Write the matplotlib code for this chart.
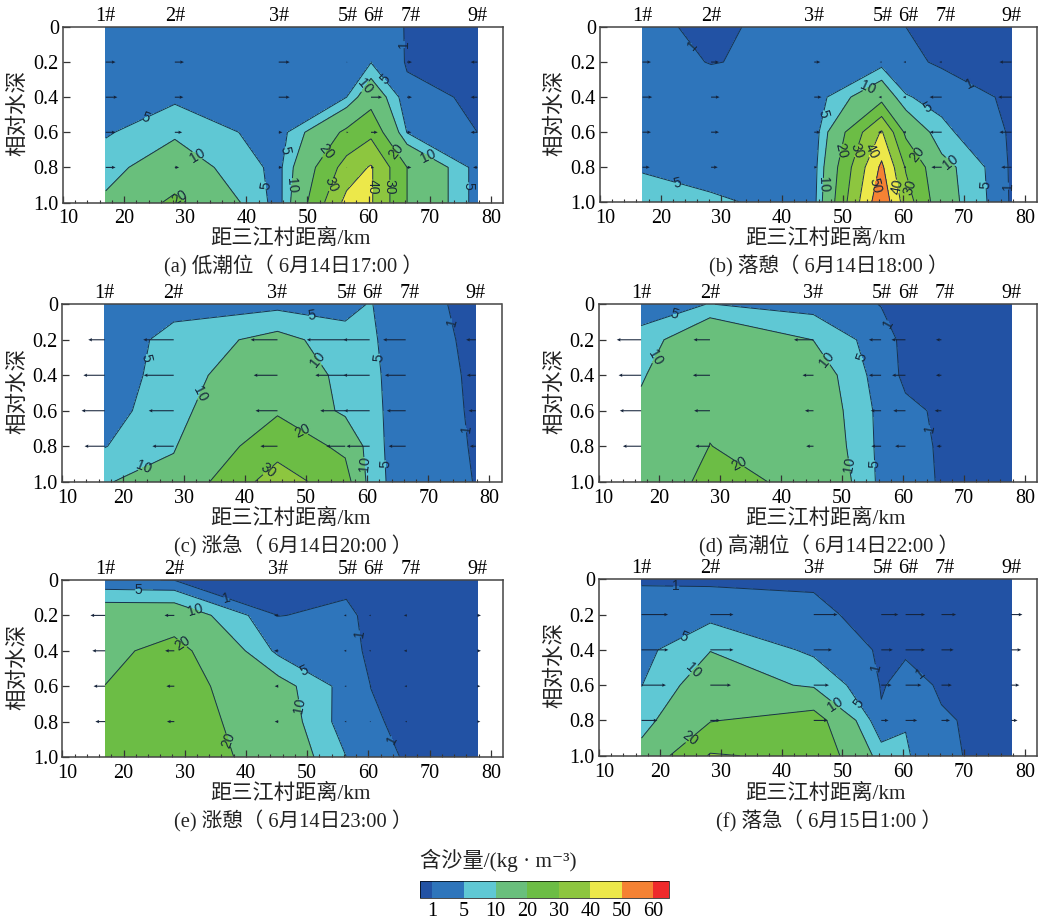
"""Six sediment concentration sections along the estuary, with flow arrows."""
import numpy as np
import matplotlib
matplotlib.use("Agg")
import matplotlib.pyplot as plt
from matplotlib.cm import ScalarMappable
from matplotlib.colors import BoundaryNorm, ListedColormap
from matplotlib.transforms import ScaledTranslation

plt.rcParams['font.family'] = ['Liberation Serif', 'Noto Sans CJK SC', 'DejaVu Sans']

W, H = 1043, 919

# stations along the river (km) and relative depths of the grid
STATION_X = [17, 28.3, 45.3, 56.4, 60.4, 66.3, 77.8]
STATION_LABEL_X = [17, 28.3, 45.3, 56.6, 60.8, 66.9, 77.8]
STATION_NAMES = ['1#', '2#', '3#', '5#', '6#', '7#', '9#']
DEPTHS = [0, 0.2, 0.4, 0.6, 0.8, 1.0]
ARROW_DEPTHS = [0.2, 0.4, 0.6, 0.8]

# concentration, one row per station, top to bottom
SSC_A = [[2.5, 2.5, 3, 4.4, 8, 11],
         [2.5, 2.5, 4, 9, 14, 22],
         [2, 2, 2, 2.5, 3.45, 3],
         [2.5, 3, 5, 22, 34, 43],
         [3, 4.8, 16, 27.5, 41, 41],
         [0.8, 0.7, 1.8, 4.8, 20, 20],
         [0.4, 0.4, 0.6, 1, 2.9, 2.9]]
SSC_B = [[1.6, 2.5, 3, 3.3, 4.7, 6.5],
         [0.45, 0.85, 3, 3, 3.5, 5.6],
         [2.3, 2.1, 2.3, 2.2, 3, 3.5],
         [2, 3, 16.5, 41, 52, 58],
         [1, 2, 5.3, 18, 29, 35],
         [0.5, 0.4, 3.7, 6, 12.5, 13.3],
         [0.3, 0.2, 0.17, 0.55, 0.4, 0.5]]
SSC_C = [[2, 2, 2.5, 3, 4.8, 9.7],
         [3.4, 6.6, 7, 8, 9.5, 12],
         [3.6, 12, 16, 19, 26, 35],
         [3.2, 7, 8, 8.4, 18, 24],
         [5.3, 6, 6.5, 7, 7, 7.5],
         [2, 1.5, 1.8, 1.6, 2.1, 2],
         [0.33, 0.8, 0.79, 0.88, 0.86, 0.95]]
SSC_D = [[3.5, 6, 9.3, 11.5, 12.5, 13],
         [5.1, 18, 18.5, 19, 20.1, 22.5],
         [3, 9.9, 14, 15, 16, 18],
         [0.9, 2.2, 2.6, 3.6, 3.7, 3.8],
         [0.7, 0.3, 0.4, 1.6, 2, 2.2],
         [0.3, 0.3, 0.3, 0.6, 0.69, 0.75],
         [0.2, 0.2, 0.2, 0.2, 0.2, 0.2]]
SSC_E = [[1.4, 15, 17.5, 20.1, 23, 25],
         [0.9, 15, 23.3, 24, 25, 26],
         [0.4, 0.93, 3.8, 12.5, 14.1, 15.5],
         [0.4, 1.5, 2, 3, 2.5, 5],
         [0.3, 0.39, 0.45, 0.98, 1.3, 2.2],
         [0.3, 0.3, 0.3, 0.4, 0.5, 0.7],
         [0.2, 0.2, 0.2, 0.2, 0.2, 0.2]]
SSC_F = [[0.6, 2.8, 3.5, 4.9, 7.5, 12.5],
         [0.35, 3.5, 9.8, 14, 19.5, 30.8],
         [0.7, 1.5, 4, 9, 24.5, 28],
         [0.3, 0.2, 0.55, 0.8, 1.3, 7.3],
         [0.3, 0.4, 0.7, 1.8, 4.7, 5.6],
         [0.3, 0.3, 0.4, 0.75, 1.2, 1.3],
         [0.2, 0.2, 0.2, 0.2, 0.3, 0.31]]

# along-river velocity drawn as arrow length (km), one row per station, top to bottom
FLOW_A = [[1.6, 1.9, 1.6, 1.6], [1.5, 1.4, 1.2, 0.7], [1.8, 1.8, 0.6, 0.6],
          [0.15, 0.1, 0.3, 0.1], [0.2, 1.8, 1.1, 0.5], [0.8, 0.8, 0.7, 0.7],
          [-1.1, -1.1, -1.1, -0.7]]
FLOW_B = [[1.4, 1.6, 1.4, 1.2], [1.3, 1.4, 1.3, 1.1], [1, 1.2, 1, 0.5],
          [-0.3, -0.5, -0.6, -0.1], [-0.4, -0.5, -0.5, -0.4], [-0.4, -2, -2, -1.7],
          [-2, -2.2, -2, -1.7]]
FLOW_C = [[-2.7, -3.5, -3.8, -3.3], [-5, -4.9, -4.1, -3.5], [-4.4, -3.9, -3.6, -2.8],
          [-6.3, -4.9, -4.1, -3.1], [-4.3, -4.3, -4.2, -3.8], [-3.7, -3.4, -3.1, -2.8],
          [-1.6, -1.5, -1.2, -1]]
FLOW_D = [[-4, -3.7, -3.5, -3], [-2.7, -2.8, -2.6, -2.4], [-3.2, -1.8, -1.4, -1.2],
          [-2, -2, -1.7, -1.6], [-2.3, -2.2, -2, -1.7], [-0.9, -0.9, -1.1, -0.8],
          [0, 0, 0, 0]]
FLOW_E = [[-2.4, -2.1, -1.9, -1.6], [-1.6, -1.5, -1.3, -1.2], [-0.7, -0.7, -0.6, -0.6],
          [-0.4, -0.4, -0.3, -0.3], [-0.3, -0.3, -0.2, -0.2], [-0.5, -0.5, -0.4, -0.3],
          [0.6, 0.6, 0.5, 0.5]]
FLOW_F = [[4.35, 4.4, 4, 2.6], [3.8, 3.8, 3.4, 1.6], [3.9, 3, 2.5, 2.3],
          [2.8, 1.9, 1.7, 1.2], [3.2, 3.2, 2.6, 1.9], [2.4, 2, 1.7, 1.4],
          [1.8, 1.6, 1.3, 1]]

# where each contour label sits
LABELS_A = [(23.5, .52), (43.4, .9), (46.3, .7), (32, .73), (29.1, .97), (47.5, .9),
            (53, .71), (54, .9), (60.8, .91), (63.6, .91), (64.5, .71), (69.6, .755),
            (76.1, .905), (62.7, .3), (59.6, .345), (66, .1)]
LABELS_B = [(25.4, .1), (22.7, .89), (47.2, .5), (46.7, .9), (49.8, .706), (52.3, .706),
            (54.7, .706), (55.1, .9), (59.3, .907), (61.5, .907), (62.1, .73), (67.6, .774),
            (73.6, .9), (63.9, .46), (54.2, .35), (70.9, .32), (77.6, .907)]
LABELS_C = [(50.9, .08), (23.8, .3), (32.5, .5), (23.4, .925), (52.2, .305), (49.3, .727),
            (43.8, .944), (59.4, .9), (62, .3), (62.9, .9), (73.9, .098), (76, .703)]
LABELS_D = [(22.6, .07), (19, .29), (47.5, .308), (53.2, .3), (33.1, .9), (51.3, .906),
            (54.9, .9), (57.7, .107), (64.2, .703)]
LABELS_E = [(22.4, .056), (36.8, .104), (31.7, .164), (29.4, .367), (49.5, .52), (49, .71),
            (36.9, .908), (58.5, .305), (63.7, .904)]
LABELS_F = [(22.7, .042), (24, .34), (25.2, .5), (25.1, .907), (48.8, .713), (52.8, .703),
            (55.7, .5), (62.9, .533)]

CAPTIONS = ['(a) 低潮位（ 6月14日17:00 ）', '(b) 落憩（ 6月14日18:00 ）', '(c) 涨急（ 6月14日20:00 ）',
            '(d) 高潮位（ 6月14日22:00 ）', '(e) 涨憩（ 6月14日23:00 ）', '(f) 落急（ 6月15日1:00 ）']

LEVELS = [0, 1, 5, 10, 20, 30, 40, 50, 60, 100]
LINE_LEVELS = [1, 5, 10, 20, 30, 40, 50]
BAR_LEVELS = [1, 5, 10, 20, 30, 40, 50, 60]
COLORS = ['#2252a4', '#2e75bb', '#5fc8d4', '#69bf7c', '#6cbd45', '#8dc63f', '#ece84a', '#f58233', '#ee2a2b']

# pixel boxes: left, right, top, bottom, ylabel x, xlabel x, caption x
BOXES = [(63, 503, 27, 202.5, 18, 290, 293), (600, 1037, 27, 202.3, 555, 825, 829),
         (62, 501.5, 304.3, 481.7, 18, 290, 293), (598.5, 1037, 304.3, 481.7, 555, 825, 829),
         (62.3, 503, 580, 757, 18, 290, 293), (599, 1037, 579.3, 755.7, 555, 825, 829)]
ROW_TEXT_Y = [(239, 266), (239, 266), (519, 546), (519, 546), (794, 821), (794, 821)]


def draw_section(ax, ssc, flow, labels):
    x = np.array(STATION_X)
    y = np.array(DEPTHS)
    z = np.array(ssc).T
    ax.contourf(x, y, z, levels=LEVELS, colors=COLORS)
    lines = ax.contour(x, y, z, levels=LINE_LEVELS, colors='#17324f', linewidths=0.7)
    texts = ax.clabel(lines, fmt='%d', fontsize=10, colors='#16283c', manual=labels, inline=True, inline_spacing=0)
    for t in texts:
        t.set_family('Liberation Sans')
    qx, qy = np.meshgrid(x, np.array(ARROW_DEPTHS))
    u = np.array(flow).T
    ax.quiver(qx, qy, u, np.zeros_like(u), angles='xy', scale_units='xy', scale=1, pivot='tail',
              width=0.0024, headwidth=3.2, headlength=3.6, headaxislength=3.2, minlength=0,
              color='#15233a', zorder=3)
    ax.set_xlim(10, 82)
    ax.set_ylim(1, 0)
    ax.set_xticks(range(10, 81, 10))
    ax.set_xticks(range(10, 82, 2), minor=True)
    ax.set_yticks(DEPTHS, ['0', '0.2', '0.4', '0.6', '0.8', '1.0'])
    ax.tick_params(axis='both', which='major', direction='in', length=5, width=0.9, color='#333333', labelsize=14.5, pad=3)
    ax.tick_params(axis='x', which='major', pad=5)
    ax.tick_params(axis='x', which='minor', direction='in', length=2.5, width=0.8, color='#333333')
    shift = ScaledTranslation(5 / 100, 0, ax.figure.dpi_scale_trans)
    first = ax.get_xticklabels()[0]
    first.set_transform(first.get_transform() + shift)
    for side in ax.spines.values():
        side.set_linewidth(1.1)
        side.set_color('#444444')
    top = ax.secondary_xaxis('top')
    top.set_xticks(STATION_LABEL_X, STATION_NAMES)
    top.tick_params(length=0, labelsize=14.5, pad=1)
    for side in top.spines.values():
        side.set_visible(False)


def main():
    fig = plt.figure(figsize=(W / 100, H / 100), dpi=100)
    series = [(SSC_A, FLOW_A, LABELS_A), (SSC_B, FLOW_B, LABELS_B), (SSC_C, FLOW_C, LABELS_C),
              (SSC_D, FLOW_D, LABELS_D), (SSC_E, FLOW_E, LABELS_E), (SSC_F, FLOW_F, LABELS_F)]
    for i, (ssc, flow, labels) in enumerate(series):
        l, r, t, b, yl, xl, cap = BOXES[i]
        ax = fig.add_axes([l / W, 1 - b / H, (r - l) / W, (b - t) / H])
        draw_section(ax, ssc, flow, labels)
        fig.text(yl / W, 1 - (t + b - 4) / 2 / H, '相对水深', rotation=90, ha='center', va='center', fontsize=15.5, color='#222222')
        fig.text(xl / W, 1 - ROW_TEXT_Y[i][0] / H, '距三江村距离/km', ha='center', va='center', fontsize=15.3, color='#222222')
        fig.text(cap / W, 1 - ROW_TEXT_Y[i][1] / H, CAPTIONS[i], ha='center', va='center', fontsize=14.8, color='#222222')

    # legend bar, the end boxes are part of the axes
    cax = fig.add_axes([420 / W, 1 - 897.5 / H, 248.5 / W, 16.5 / H])
    norm = BoundaryNorm(BAR_LEVELS, 9, extend='both')
    bar = fig.colorbar(ScalarMappable(norm=norm, cmap=ListedColormap(COLORS)), cax=cax, orientation='horizontal',
                       spacing='uniform', ticks=BAR_LEVELS, extend='both', extendrect=True, extendfrac=[0.056, 0.068])
    bar.ax.tick_params(length=0, labelsize=14.5, pad=3)
    bar.dividers.set_color('#444444')
    bar.outline.set_linewidth(0.5)
    fig.text(498 / W, 1 - 860 / H, '含沙量/(kg · m⁻³)', ha='center', va='center', fontsize=15.3, color='#222222')

    fig.savefig('out.png', dpi=100, facecolor='white')


if __name__ == "__main__":
    main()
